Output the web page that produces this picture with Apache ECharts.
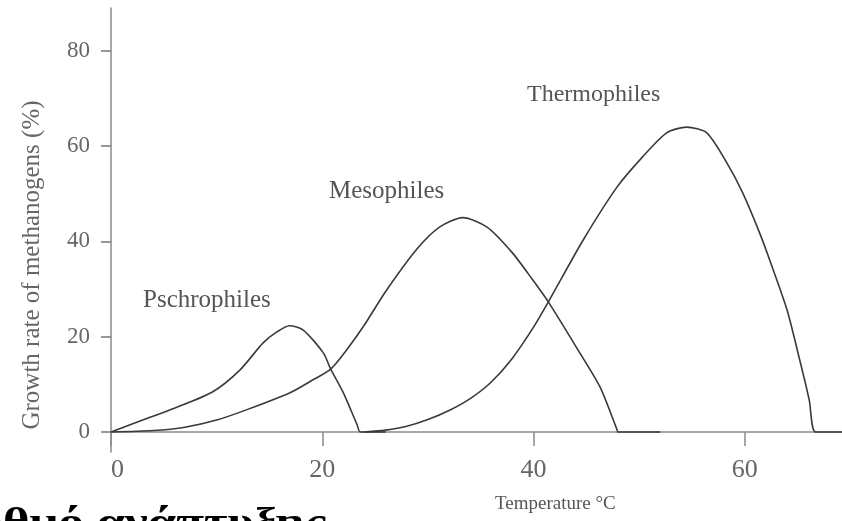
<!DOCTYPE html>
<html>
<head>
<meta charset="utf-8">
<script src="https://cdn.jsdelivr.net/npm/echarts@6/dist/echarts.min.js"></script>
<style>html,body{margin:0;padding:0;background:#fff;}#c{width:842px;height:521px;}</style>
</head>
<body>
<div id="c"></div>
<script>
// Temperature (°C) vs growth rate (%)
var psychro = [[0,0],[3,2.5],[6,5],[9.6,8.4],[12.2,13],[14.4,18.7],[15.7,21],[16.9,22.3],[18.2,21.4],[20.1,16.6],[20.8,13.2],[22,8.2],[23.3,1.5],[23.6,0],[26,0]];
var meso = [[0,0],[4,0.3],[7,1],[10,2.5],[13,4.8],[17,8.3],[19,10.8],[20.8,13.2],[22.3,17.2],[24,22.5],[26,29.5],[29,38.5],[31.1,43],[33.3,45],[35.6,43],[38,37.6],[39.9,32],[41.4,27.3],[44.1,17.6],[46.3,9.4],[47.9,0.5],[48,0],[52,0]];
var thermo = [[24,0],[26,0.4],[28,1.2],[30,2.6],[32,4.5],[34,7],[36,10.5],[38,15.5],[40,22],[41.4,27.3],[44.7,40.3],[47.9,51.4],[50.3,57.7],[52.6,62.8],[54.5,64],[56.4,62.8],[58.3,56.5],[59.8,50.2],[61.4,41.8],[62.6,34.6],[64,25.6],[65.2,15.1],[66.1,6.7],[66.7,0],[69.2,0]];
var xTicks = [0,20,40,60];
var yTicks = [0,20,40,60,80];
var seriesNames = ['Pschrophiles','Mesophiles','Thermophiles'];
var xTitle = 'Temperature °C';
var yTitle = 'Growth rate of methanogens (%)';
var caption = 'Ρυθμό ανάπτυξης';

var chart = echarts.init(document.getElementById('c'), null, {renderer:'canvas'});
var serif = '"Liberation Serif", "DejaVu Serif", serif';
var lineStyle = {color:'#3a3a3a', width:1.6};
function mk(name, data){
  return {name:name, type:'line', data:data, smooth:0.25, showSymbol:false, symbol:'none',
    lineStyle:lineStyle, silent:true, animation:false};
}
chart.setOption({
  animation:false,
  backgroundColor:'#fff',
  grid:{left:111, top:8, width:731, height:444, containLabel:false},
  xAxis:{type:'value', min:0, max:69.2,
    axisLine:{show:true, onZero:true, lineStyle:{color:'#8a8a8a', width:1.5}},
    axisTick:{show:true, length:14, lineStyle:{color:'#8a8a8a', width:1.5}, customValues:xTicks},
    axisLabel:{customValues:xTicks, margin:5, color:'#666', fontFamily:serif, fontSize:26, alignMinLabel:'left'},
    splitLine:{show:false}},
  yAxis:{type:'value', min:-4.2, max:89,
    axisLine:{show:true, lineStyle:{color:'#8a8a8a', width:1.5}},
    axisTick:{show:true, length:10, lineStyle:{color:'#777', width:1.5}, customValues:yTicks},
    axisLabel:{customValues:yTicks, margin:21, color:'#666', fontFamily:serif, fontSize:23},
    splitLine:{show:false}},
  series:[mk(seriesNames[0], psychro), mk(seriesNames[1], meso), mk(seriesNames[2], thermo)],
  graphic:[
    {type:'text', left:143, top:288, style:{text:seriesNames[0], font:'25px '+serif, fill:'#555'}},
    {type:'text', left:329, top:179, style:{text:seriesNames[1], font:'25px '+serif, fill:'#555'}},
    {type:'text', left:527, top:83, style:{text:seriesNames[2], font:'24px '+serif, fill:'#555'}},
    {type:'text', left:495, top:495, style:{text:xTitle, font:'19px '+serif, fill:'#555'}},
    {type:'text', x:32, y:265, rotation:Math.PI/2, style:{text:yTitle, font:'25px '+serif, fill:'#666', align:'center', verticalAlign:'middle'}},
    {type:'text', x:326, y:505, scaleX:1.34, style:{text:caption, font:'bold 38px '+serif, fill:'#000', align:'right', verticalAlign:'top'}}
  ]
});
</script>
</body>
</html>
